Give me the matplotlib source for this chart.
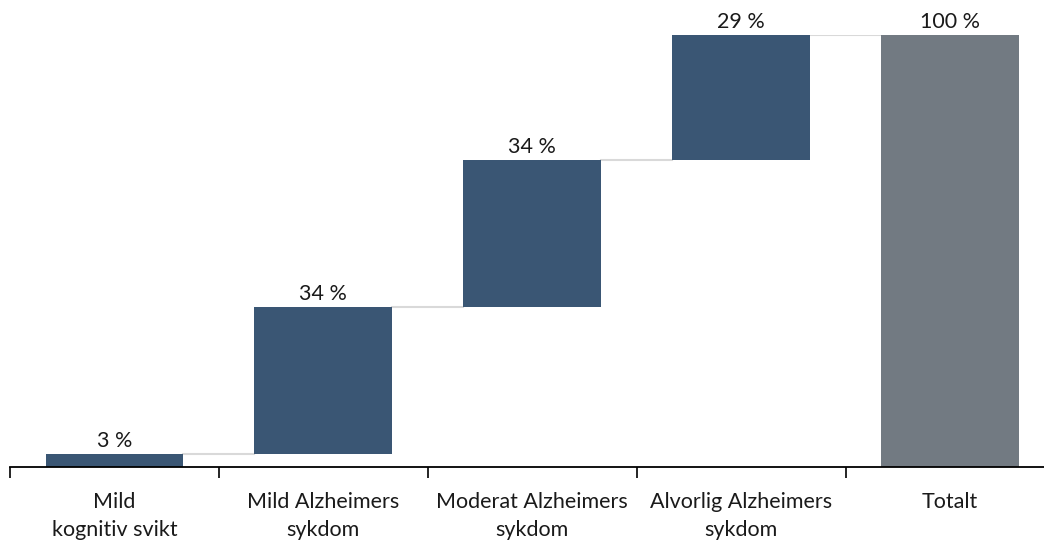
import numpy as np
import matplotlib.pyplot as plt

categories = ["Mild\nkognitiv svikt", "Mild Alzheimers\nsykdom", "Moderat Alzheimers\nsykdom",
              "Alvorlig Alzheimers\nsykdom", "Totalt"]
values = [3, 34, 34, 29]
total = 100
labels = ["3 %", "34 %", "34 %", "29 %", "100 %"]

plt.rcParams['font.family'] = ['Lato', 'DejaVu Sans']

fig = plt.figure(figsize=(10.44, 5.47), dpi=100)
ax = fig.add_axes([10/1044, 1-467/547, 1034/1044, 432/547])

x = np.arange(len(categories))
bottoms = np.concatenate([[0], np.cumsum(values)[:-1]])
heights = values + [total]
bottoms = list(bottoms) + [0]
colors = ["#3A5674"] * 4 + ["#727A82"]
w = 0.66
ax.bar(x, heights, bottom=bottoms, width=w, color=colors, zorder=2)

# connector lines
tops = np.cumsum(values)
for i in range(len(values)):
    ax.plot([x[i] + w/2, x[i+1] - w/2], [tops[i], tops[i]], color="#D9D9D9", lw=1.5, zorder=1)

for xi, b, h, lab in zip(x, bottoms, heights, labels):
    ax.text(xi, b + h + 0.8, lab, ha="center", va="bottom", fontsize=15.5, color="#1a1a1a", clip_on=False)

ax.set_xlim(-0.5, 4.45)
ax.set_ylim(0, 100)
for s in ["top", "right", "left"]:
    ax.spines[s].set_visible(False)
ax.spines["bottom"].set_linewidth(1.3)
ax.set_yticks([])
ax.set_xticks(x)
ax.set_xticklabels(categories, fontsize=15.5, color="#1a1a1a", linespacing=1.5)
ax.tick_params(axis="x", which="major", length=0, pad=18)
ax.set_xticks(np.arange(-0.5, 4.5, 1), minor=True)
ax.tick_params(axis="x", which="minor", length=8, width=1.2, direction="out")

fig.savefig("out.png", dpi=100)
